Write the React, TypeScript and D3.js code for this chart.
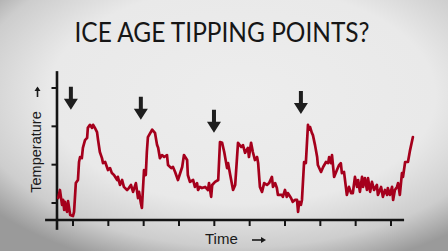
import React from "react";
import * as d3 from "d3";

// time (arbitrary units) and temperature (arbitrary units)
const times = [5.8,6.3,6.9,7.2,7.5,7.7,8.3,8.6,9.2,10.0,10.3,10.8,11.4,11.7,12.0,12.5,12.8,13.4,14.0,14.2,14.8,15.4,15.7,16.2,16.8,17.1,17.6,18.2,18.5,19.1,19.6,19.9,20.5,21.0,21.6,22.5,22.7,23.3,23.9,24.4,25.3,25.8,26.4,27.0,27.8,28.4,28.7,29.2,29.5,30.1,30.6,30.9,31.2,32.4,33.2,33.8,34.1,34.6,35.2,35.8,36.6,36.9,37.8,38.3,38.9,39.7,40.9,41.4,42.3,42.5,43.1,44.0,44.5,45.1,45.4,45.9,46.5,47.4,48.2,48.5,49.1,49.4,50.2,51.1,51.6,52.2,52.8,53.6,53.9,54.5,55.3,55.9,56.7,57.6,58.1,58.7,59.5,59.8,60.4,60.9,61.5,62.1,62.4,62.9,63.5,64.1,64.9,65.5,66.3,66.6,67.2,67.7,68.0,69.1,69.4,70.0,70.5,70.8,71.7,72.2,72.8,73.4,73.7,74.0,74.5,74.8,75.4,75.9,76.5,76.8,77.1,77.6,77.9,78.5,79.1,79.3,80.2,80.8,81.6,82.2,82.5,83.0,83.3,83.9,84.7,85.3,85.8,86.1,86.7,87.5,88.1,88.7,89.2,89.8,90.4,90.7,91.2,91.8,92.1,92.6,93.2,93.5,94.1,94.6,95.2,96.0,96.3,97.2,97.7,98.3,98.9,99.1,99.7,100.3,100.6,101.1,101.7,102.0,102.5,103.1,103.4,104.0,104.8,105.4,106.2];
const temps = [1.3,3.4,-0.5,0.8,-1.8,0.3,-2.3,0.5,-3.1,-3.4,-2.3,5.2,6.0,10.7,12.0,11.7,14.4,16.4,17.0,19.6,20.4,19.6,20.4,19.6,18.5,16.4,13.3,11.7,10.4,10.7,9.4,8.6,9.1,7.8,7.3,6.0,6.8,4.7,6.0,4.2,3.4,3.9,4.7,2.9,5.2,1.3,2.9,0.0,-1.3,8.6,7.3,13.3,17.2,19.1,18.3,15.1,14.4,11.7,12.5,12.0,12.5,9.9,9.1,9.4,8.1,6.0,9.4,12.5,11.2,7.3,5.5,6.0,4.2,5.2,3.4,4.2,3.9,4.2,3.4,5.2,1.6,4.7,5.5,6.0,15.9,15.7,13.3,9.1,10.4,7.3,3.4,4.7,15.7,14.6,15.1,13.1,14.4,12.0,15.7,13.3,11.2,12.0,10.4,4.2,2.9,5.2,4.7,5.2,6.8,4.2,5.2,3.9,2.1,2.1,1.6,3.4,1.6,2.6,1.3,0.3,0.8,0.8,-2.3,0.3,-0.5,0.8,10.7,10.4,20.4,19.1,19.8,18.3,17.7,15.1,12.0,9.9,8.1,9.4,10.7,10.4,12.0,10.4,12.5,6.8,8.6,9.9,10.4,7.8,8.1,2.1,4.2,2.6,2.6,6.8,4.2,6.0,2.9,6.8,4.2,6.5,3.4,6.5,2.9,5.5,3.4,4.7,2.1,4.2,1.6,3.4,2.1,3.9,2.1,4.2,0.8,3.4,4.2,5.2,2.1,7.8,6.8,10.7,10.7,13.8,17.2];

const xTicks = [10, 20, 30, 40, 50, 60, 70, 80, 90, 100];
const yTicks = [0, 10, 20, 30];

// tipping point arrows: time and temperature of the arrow tip
const arrowTimes = [9.4, 29.2, 49.9, 74.5];
const arrowTips = [24.3, 21.7, 18.3, 23.2];

const title = "ICE AGE TIPPING POINTS?";
const yLabel = "Temperature";
const xLabel = "Time";

const W = 448;
const H = 251;

export default function App() {
  const x = d3.scaleLinear().domain([10, 100]).range([73, 391]);
  const y = d3.scaleLinear().domain([0, 30]).range([203, 88]);

  const xAxisStart = 2.1;
  const xAxisEnd = 103.7;
  const yAxisAt = 5.47;
  const yAxisTop = 34.4;
  const yAxisBottom = -7.0;
  const xAxisAt = -4.44;

  const pts = times.map((t, i) => [t, temps[i]] as [number, number]);
  const line = d3
    .line<[number, number]>()
    .x((d) => x(d[0]))
    .y((d) => y(d[1]));

  const ax = "#141414";
  const font = "'Liberation Sans', Arial, sans-serif";

  return (
    <svg
      width={W}
      height={H}
      style={{ position: "absolute", left: 0, top: 0 }}
      xmlns="http://www.w3.org/2000/svg"
    >
      <defs>
        <radialGradient id="bg" cx="54%" cy="38%" r="72%">
          <stop offset="0" stopColor="#ededed" />
          <stop offset="0.6" stopColor="#e9e9e9" />
          <stop offset="0.84" stopColor="#cdcdcd" />
          <stop offset="1" stopColor="#9a9a9a" />
        </radialGradient>
      </defs>
      <rect width={W} height={H} fill="url(#bg)" />

      <text
        x={222}
        y={42}
        textAnchor="middle"
        fontFamily="Lato, 'Open Sans', sans-serif"
        fontSize={26}
        fill="#161616"
        textLength={295}
        lengthAdjust="spacingAndGlyphs"
      >
        {title}
      </text>

      {/* axes */}
      <line
        x1={x(xAxisStart)}
        x2={x(xAxisEnd)}
        y1={y(xAxisAt)}
        y2={y(xAxisAt)}
        stroke={ax}
        strokeWidth={2.6}
      />
      <line
        x1={x(yAxisAt)}
        x2={x(yAxisAt)}
        y1={y(yAxisTop)}
        y2={y(yAxisBottom)}
        stroke={ax}
        strokeWidth={2.6}
      />
      {xTicks.map((t) => (
        <line
          key={"xt" + t}
          x1={x(t)}
          x2={x(t)}
          y1={y(xAxisAt)}
          y2={y(xAxisAt) + 6}
          stroke={ax}
          strokeWidth={2}
        />
      ))}
      {yTicks.map((t) => (
        <line
          key={"yt" + t}
          x1={x(yAxisAt) - 5.5}
          x2={x(yAxisAt)}
          y1={y(t)}
          y2={y(t)}
          stroke={ax}
          strokeWidth={2}
        />
      ))}

      {/* data line */}
      <path
        d={line(pts) || ""}
        fill="none"
        stroke="#a5001c"
        strokeWidth={2.7}
        strokeLinejoin="round"
        strokeLinecap="round"
      />

      {/* tipping arrows */}
      {arrowTimes.map((t, i) => {
        const cx = x(t);
        const tip = y(arrowTips[i]);
        const top = tip - 23;
        const headH = 11;
        const headW = 7;
        const sw = 2;
        const d = `M${cx - sw},${top} L${cx + sw},${top} L${cx + sw},${tip - headH} L${cx + headW},${tip - headH} L${cx},${tip} L${cx - headW},${tip - headH} L${cx - sw},${tip - headH} Z`;
        return <path key={"ar" + i} d={d} fill="#1e1e1e" />;
      })}

      {/* y label */}
      <text
        transform="translate(41,152) rotate(-90)"
        textAnchor="middle"
        fontFamily={font}
        fontSize={14.5}
        fill="#1a1a1a"
      >
        {yLabel}
      </text>
      <path d="M37.5,97 L37.5,88" stroke="#1a1a1a" strokeWidth={1.6} />
      <path d="M34.5,91 L37.5,86.5 L40.5,91 Z" fill="#1a1a1a" />

      {/* x label */}
      <text
        x={205}
        y={244}
        fontFamily={font}
        fontSize={15}
        fill="#1a1a1a"
      >
        {xLabel}
      </text>
      <path d="M252,240 L262,240" stroke="#1a1a1a" strokeWidth={1.6} />
      <path d="M261,237 L266,240 L261,243 Z" fill="#1a1a1a" />
    </svg>
  );
}
